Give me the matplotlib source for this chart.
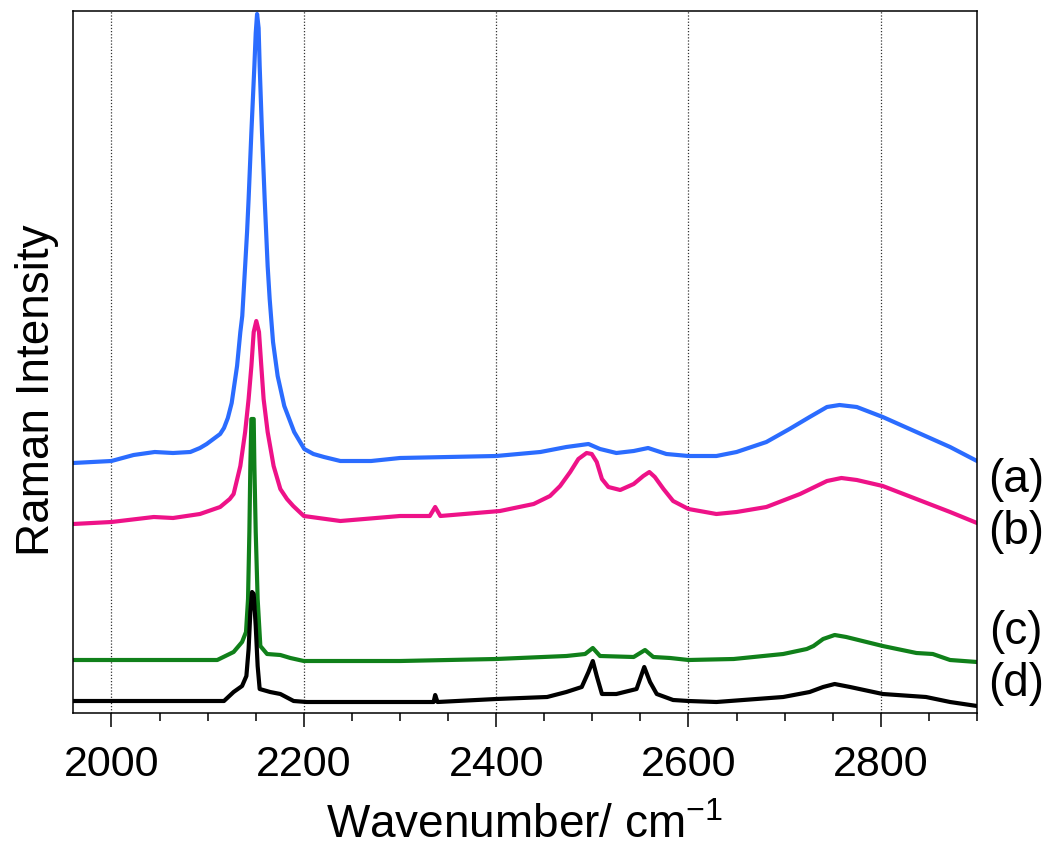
import matplotlib
matplotlib.use("Agg")
import matplotlib.pyplot as plt
import numpy as np

plt.rcParams['font.family'] = ['Liberation Sans', 'DejaVu Sans']
plt.rcParams['mathtext.fontset'] = 'custom'
plt.rcParams['mathtext.rm'] = 'Liberation Sans'
plt.rcParams['mathtext.default'] = 'regular'

# Wavenumber (cm^-1) and relative intensity
wn_a = [1960, 2000, 2023, 2045, 2064, 2082, 2092, 2099, 2106, 2113, 2117, 2121, 2125,
        2130.6, 2134, 2136, 2139, 2141, 2142.6, 2145.5, 2148.6, 2150, 2151.4, 2153, 2154.1,
        2156.5, 2159.3, 2162.4, 2164.5, 2168, 2172.8, 2179.7, 2190, 2200.5, 2210, 2221,
        2238, 2270, 2300, 2350, 2400, 2446, 2473, 2496, 2508, 2525, 2543, 2558, 2577,
        2600, 2629, 2650, 2681, 2705, 2726, 2744, 2757, 2775, 2802, 2837, 2872, 2900]
int_a = [250, 252, 258, 261, 260, 261, 265, 269, 274, 279, 285, 295, 310,
         347, 381, 397, 447, 481, 514, 581, 647, 680, 699, 685, 647,
         581, 514, 447, 414, 371, 337, 307, 281, 264, 259, 256,
         252, 252, 255, 256, 257, 261, 266, 269, 264, 260, 262, 265, 259,
         257, 257, 261, 271, 284, 296, 306, 308, 306, 296, 281, 266, 252]

wn_b = [1960, 2000, 2044, 2064, 2092, 2113, 2123, 2127, 2134, 2139, 2142.6, 2145.5,
        2147.9, 2150.6, 2153.4, 2155.8, 2158.2, 2162.4, 2168.6, 2175.6, 2182.5, 2189,
        2200, 2238, 2300, 2331, 2336.6, 2342, 2404, 2439, 2456, 2466.5, 2477, 2485.5,
        2494, 2499.4, 2504.6, 2510, 2516.7, 2529, 2543, 2553, 2559.3, 2565, 2574, 2584,
        2600, 2629, 2650, 2681, 2716, 2744, 2759, 2775, 2802, 2837, 2872, 2900]
int_b = [189, 191, 196, 195, 199, 206, 214, 219, 247, 281, 314, 347,
         381, 392, 381, 347, 314, 281, 247, 224, 214, 207,
         197, 192, 197, 197, 206, 197, 202, 209, 217, 227, 241, 254,
         260, 259, 251, 234, 226, 223, 229, 237, 241, 236, 224, 212,
         204, 199, 201, 206, 219, 232, 235, 233, 227, 214, 201, 190]

wn_c = [1960, 2110, 2127, 2135.8, 2139.9, 2142, 2143.4, 2144.4, 2145.5, 2147.9, 2148.6,
        2150, 2152, 2154.8, 2161.8, 2175.6, 2186, 2200, 2300, 2400, 2473, 2492.5, 2500.5,
        2508, 2543, 2554.8, 2563.4, 2581, 2600, 2647, 2698.5, 2723, 2730, 2740, 2752,
        2764, 2802, 2837, 2854, 2872, 2900]
int_c = [53, 53, 61, 71, 81, 114, 181, 247, 294, 294, 247,
         181, 114, 67, 59, 58, 55, 52, 52, 54, 57, 59, 65,
         57, 56, 63, 56, 55, 53, 54, 59, 64, 67, 74, 78,
         76, 67, 60, 59, 53, 51]

wn_d = [1960, 2110, 2117, 2127, 2135.8, 2140.3, 2142.6, 2144.4, 2146.2, 2147.9, 2150,
        2152, 2154.1, 2165, 2175.6, 2189.4, 2203, 2300, 2335, 2336.6, 2339, 2400, 2453,
        2473, 2489, 2496, 2500.5, 2504.6, 2510, 2525, 2546, 2554, 2560, 2567, 2584, 2600,
        2629, 2698.5, 2726, 2740, 2752, 2768, 2802, 2847, 2872, 2900]
int_d = [12, 12, 12, 21, 27, 37, 64, 101, 121, 119, 87,
         47, 24, 21, 19, 12, 11, 11, 11, 18, 11, 14, 16,
         21, 26, 41, 52, 37, 19, 19, 24, 46, 31, 19, 13, 12,
         11, 16, 21, 26, 29, 26, 19, 16, 11, 7]

labels = ['(a)', '(b)', '(c)', '(d)']
colors = ['#2B6CFF', '#EE1288', '#10801A', '#000000']
xticks = [2000, 2200, 2400, 2600, 2800]
xminor = [2050, 2100, 2150, 2250, 2300, 2350, 2450, 2500, 2550, 2650, 2700, 2750, 2850, 2900]

fig = plt.figure(figsize=(10.46, 8.54), dpi=100)
ax = fig.add_axes([73/1046, 1-714/854, (977-73)/1046, (714-12)/854])

for wn, it, c in zip([wn_a, wn_b, wn_c, wn_d], [int_a, int_b, int_c, int_d], colors):
    ax.plot(wn, it, color=c, lw=3.0, solid_joinstyle='round', solid_capstyle='round')

ax.set_xticks(xticks)
ax.set_xticks(xminor, minor=True)
ax.set_yticks([])
ax.set_xlim(1960, 2900)
ax.set_ylim(0, 702)
ax.grid(axis='x', which='major', linestyle=(0, (1, 1.5)), color='#333333', lw=0.9)
ax.tick_params(axis='x', which='major', direction='out', length=10, width=1.1,
               labelsize=31, pad=12)
ax.tick_params(axis='x', which='minor', direction='out', length=6, width=1.1)
for s in ax.spines.values():
    s.set_linewidth(1.1)

ax.set_xlabel('Wavenumber/ cm$^{-1}$', fontsize=33, labelpad=14)
ax.set_ylabel('Raman Intensity', fontsize=33, labelpad=10, y=0.4615)

label_y = [480, 532, 632, 684]
for lab, y in zip(labels, label_y):
    fig.text(1016/1046, 1-y/854, lab, fontsize=33, ha='center', va='center')

fig.savefig('out.png', dpi=100)
